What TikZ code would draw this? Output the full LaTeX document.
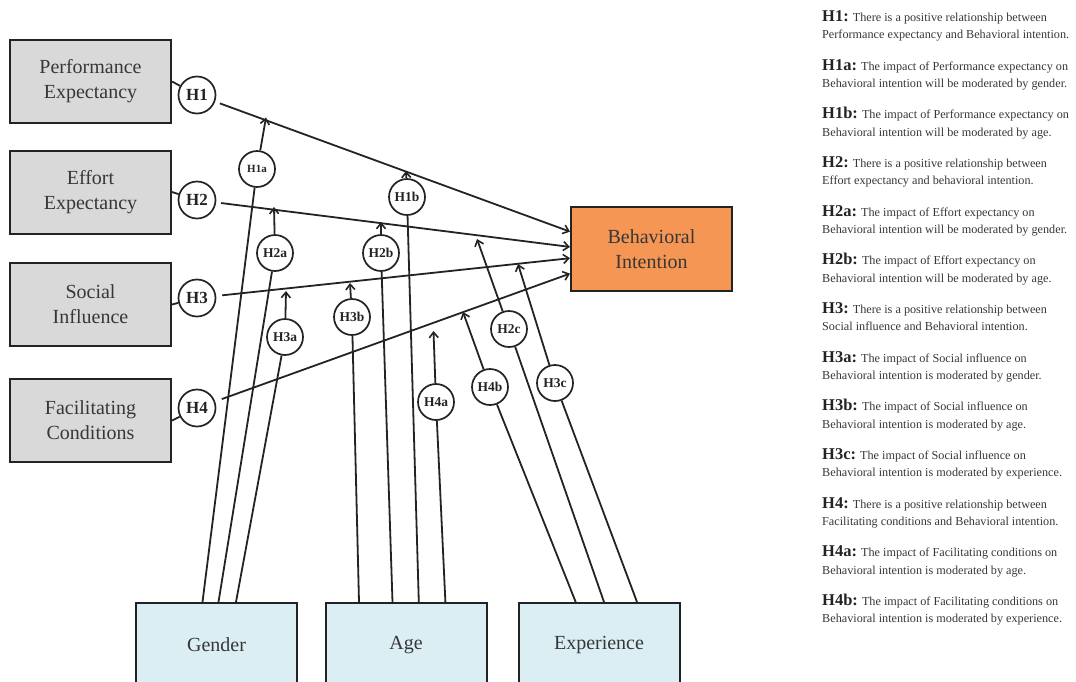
\documentclass[tikz,border=0pt]{standalone}
\usepackage{fontspec}
\setmainfont{Liberation Serif}
\usetikzlibrary{arrows.meta,calc}
\definecolor{boxgray}{RGB}{217,217,217}
\definecolor{boxblue}{RGB}{219,238,244}
\definecolor{boxorange}{RGB}{245,150,84}
\definecolor{ink}{RGB}{35,35,35}
\definecolor{txt}{RGB}{55,55,55}
\begin{document}
\begin{tikzpicture}[x=1pt,y=-1pt,
  box/.style={draw=ink, line width=2pt, minimum width=161pt, minimum height=83pt,
    inner sep=0pt, align=center, text=txt, font=\fontsize{20}{25}\selectfont},
  hyp/.style={circle, draw=ink, line width=1.7pt, minimum size=37pt, inner sep=0pt,
    fill=white, text=ink, font=\fontsize{17}{17}\selectfont\bfseries},
  mod/.style={hyp, minimum size=36pt, font=\fontsize{13.5}{13.5}\selectfont\bfseries},
  link/.style={draw=ink, line width=1.8pt},
  arr/.style={link, -{Straight Barb[length=5.5pt,width=9pt,line width=1.6pt]}},
  note/.style={anchor=base west, inner sep=0pt, text=txt, font=\fontsize{12.2}{14}\selectfont},
]
\useasboundingbox (0,0) rectangle (1076,681);

% construct boxes
\node[box, fill=boxgray] (PE) at (90.5,81.5) {Performance\\Expectancy};
\node[box, fill=boxgray] (EE) at (90.5,192) {Effort\\Expectancy};
\node[box, fill=boxgray] (SI) at (90.5,304.5) {Social\\Influence};
\node[box, fill=boxgray] (FC) at (90.5,420.5) {Facilitating\\Conditions};
\node[box, fill=boxorange, minimum height=84pt] (BI) at (651.5,249) {Behavioral\\Intention};

% moderator boxes (run past the lower edge)
\node[box, fill=boxblue, minimum height=84pt] (GEN) at (216.5,645) {Gender};
\node[box, fill=boxblue, minimum height=84pt] (AGE) at (406,645) {Age};
\node[box, fill=boxblue, minimum height=84pt] (EXP) at (599,645) {Experience};

% main hypotheses
\node[hyp] (H1) at (197,95) {H1};
\node[hyp] (H2) at (197,200) {H2};
\node[hyp] (H3) at (197,298) {H3};
\node[hyp] (H4) at (197,408) {H4};

\draw[link] (PE.east) -- (H1);
\draw[link] (EE.east) -- (H2);
\draw[link] (SI.east) -- (H3);
\draw[link] (FC.east) -- (H4);

\coordinate (bi1) at ($(BI.north west)!0.298!(BI.south west)$);
\coordinate (bi2) at ($(BI.north west)!0.476!(BI.south west)$);
\coordinate (bi3) at ($(BI.north west)!0.607!(BI.south west)$);
\coordinate (bi4) at ($(BI.north west)!0.786!(BI.south west)$);

\draw[arr, shorten <=5pt] (H1) -- (bi1);
\draw[arr, shorten <=5pt] (H2) -- (bi2);
\draw[arr, shorten <=6pt] (H3) -- (bi3);
\draw[arr, shorten <=7pt] (H4) -- (bi4);

% moderating hypotheses
\node[mod, font=\fontsize{11}{11}\selectfont\bfseries] (H1a) at (257,169) {H1a};
\node[mod] (H1b) at (407,197) {H1b};
\node[mod] (H2a) at (275,253) {H2a};
\node[mod] (H2b) at (381,253) {H2b};
\node[mod] (H3a) at (285,337) {H3a};
\node[mod] (H3b) at (352,317) {H3b};
\node[mod] (H4a) at (436,402) {H4a};
\node[mod] (H4b) at (490,387) {H4b};
\node[mod] (H2c) at (509,329) {H2c};
\node[mod] (H3c) at (555,383) {H3c};

% feet on the moderator boxes
\coordinate (g1) at ([xshift=-14pt]GEN.north);
\coordinate (g2) at ([xshift=2pt]GEN.north);
\coordinate (g3) at ([xshift=19.5pt]GEN.north);
\coordinate (a1) at ([xshift=-47pt]AGE.north);
\coordinate (a2) at ([xshift=-13.5pt]AGE.north);
\coordinate (a3) at ([xshift=12.8pt]AGE.north);
\coordinate (a4) at ([xshift=39.4pt]AGE.north);
\coordinate (e1) at ([xshift=-23.3pt]EXP.north);
\coordinate (e2) at ([xshift=5pt]EXP.north);
\coordinate (e3) at ([xshift=38pt]EXP.north);

% arrow tips near the main paths
\coordinate (t1a) at (266,117.5);
\coordinate (t1b) at (406,171);
\coordinate (t2a) at (274,207);
\coordinate (t2b) at (381,222);
\coordinate (t3a) at (286,291);
\coordinate (t3b) at (350,283);
\coordinate (t4a) at (433.5,331);
\coordinate (t4b) at (463,312);
\coordinate (t2c) at (477,239);
\coordinate (t3c) at (518,264);

\foreach \foot/\m/\tip in {g1/H1a/t1a, g2/H2a/t2a, g3/H3a/t3a,
                          a1/H3b/t3b, a2/H2b/t2b, a3/H1b/t1b, a4/H4a/t4a,
                          e1/H4b/t4b, e2/H2c/t2c, e3/H3c/t3c}{
  \draw[link] (\foot) -- (\m);
  \draw[arr] (\m) -- (\tip);
}

% hypothesis list
\foreach \lab/\one/\two [count=\i from 0] in {
  H1/There is a positive relationship between/Performance expectancy and Behavioral intention.,
  H1a/The impact of Performance expectancy on/Behavioral intention will be moderated by gender.,
  H1b/The impact of Performance expectancy on/Behavioral intention will be moderated by age.,
  H2/There is a positive relationship between/Effort expectancy and behavioral intention.,
  H2a/The impact of Effort expectancy on/Behavioral intention will be moderated by gender.,
  H2b/The impact of Effort expectancy on/Behavioral intention will be moderated by age.,
  H3/There is a positive relationship between/Social influence and Behavioral intention.,
  H3a/The impact of Social influence on/Behavioral intention is moderated by gender.,
  H3b/The impact of Social influence on/Behavioral intention is moderated by age.,
  H3c/The impact of Social influence on/Behavioral intention is moderated by experience.,
  H4/There is a positive relationship between/Facilitating conditions and Behavioral intention.,
  H4a/The impact of Facilitating conditions on/Behavioral intention is moderated by age.,
  H4b/The impact of Facilitating conditions on/Behavioral intention is moderated by experience.}{
  \node[note] (first\i) at (822,{21.5+48.67*\i})
    {{\fontsize{16.5}{18}\selectfont\bfseries\color{ink}\lab:} \one};
  \node[note] (second\i) at (822,{38.8+48.67*\i}) {\two};
}
\end{tikzpicture}
\end{document}
